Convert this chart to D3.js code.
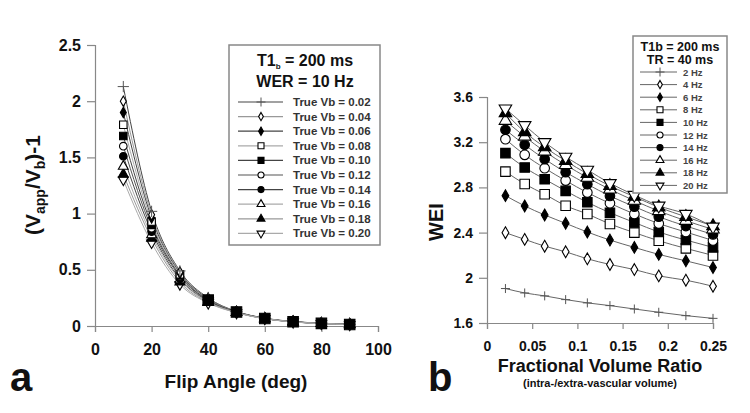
<!DOCTYPE html>
<html><head><meta charset="utf-8">
<script src="https://cdn.jsdelivr.net/npm/d3@7"></script>
<style>
body{margin:0;background:#fff;}
text{font-family:"Liberation Sans",Arial,sans-serif;font-weight:bold;}
</style></head>
<body><svg id="c" width="750" height="413"></svg>
<script>
// ---------- Panel a data ----------
const flipAngles = [10, 20, 30, 40, 50, 60, 70, 80, 90];
const vbLabels = ["True Vb = 0.02","True Vb = 0.04","True Vb = 0.06","True Vb = 0.08","True Vb = 0.10",
                  "True Vb = 0.12","True Vb = 0.14","True Vb = 0.16","True Vb = 0.18","True Vb = 0.20"];
const vb002 = [2.13, 1.02, 0.49, 0.25, 0.130, 0.070, 0.040, 0.025, 0.015];
const vb004 = [2.00, 0.99, 0.48, 0.245, 0.128, 0.069, 0.039, 0.024, 0.015];
const vb006 = [1.90, 0.96, 0.47, 0.240, 0.127, 0.068, 0.038, 0.024, 0.015];
const vb008 = [1.79, 0.93, 0.46, 0.235, 0.126, 0.068, 0.038, 0.023, 0.015];
const vb010 = [1.69, 0.90, 0.45, 0.230, 0.125, 0.067, 0.038, 0.023, 0.014];
const vb012 = [1.60, 0.87, 0.44, 0.225, 0.124, 0.067, 0.037, 0.023, 0.014];
const vb014 = [1.51, 0.84, 0.42, 0.220, 0.122, 0.066, 0.037, 0.022, 0.014];
const vb016 = [1.42, 0.81, 0.41, 0.215, 0.121, 0.066, 0.037, 0.022, 0.014];
const vb018 = [1.35, 0.78, 0.39, 0.210, 0.120, 0.065, 0.036, 0.022, 0.013];
const vb020 = [1.30, 0.74, 0.37, 0.205, 0.118, 0.065, 0.036, 0.021, 0.013];
const leftSeries = [vb002, vb004, vb006, vb008, vb010, vb012, vb014, vb016, vb018, vb020];
const leftXTicks = [0, 20, 40, 60, 80, 100];
const leftYTicks = [0, 0.5, 1, 1.5, 2, 2.5];

// ---------- Panel b data ----------
const volRatio = [0.0204, 0.0417, 0.0638, 0.087, 0.111, 0.136, 0.163, 0.19, 0.22, 0.25];
const werLabels = ["2 Hz","4 Hz","6 Hz","8 Hz","10 Hz","12 Hz","14 Hz","16 Hz","18 Hz","20 Hz"];
const hz2  = [1.905, 1.866, 1.840, 1.807, 1.778, 1.754, 1.724, 1.695, 1.665, 1.641];
const hz4  = [2.399, 2.340, 2.280, 2.230, 2.168, 2.118, 2.073, 2.017, 1.979, 1.925];
const hz6  = [2.727, 2.636, 2.556, 2.482, 2.405, 2.334, 2.269, 2.207, 2.150, 2.091];
const hz8  = [2.940, 2.830, 2.739, 2.638, 2.565, 2.476, 2.400, 2.328, 2.260, 2.198];
const hz10 = [3.103, 2.976, 2.872, 2.769, 2.668, 2.576, 2.490, 2.405, 2.334, 2.269];
const hz12 = [3.227, 3.088, 2.970, 2.860, 2.754, 2.659, 2.565, 2.480, 2.405, 2.330];
const hz14 = [3.310, 3.177, 3.050, 2.934, 2.828, 2.724, 2.630, 2.540, 2.458, 2.384];
const hz16 = [3.390, 3.250, 3.118, 2.999, 2.887, 2.783, 2.683, 2.591, 2.505, 2.428];
const hz18 = [3.458, 3.290, 3.156, 3.035, 2.920, 2.813, 2.718, 2.624, 2.540, 2.458];
const hz20 = [3.497, 3.350, 3.200, 3.070, 2.955, 2.837, 2.733, 2.638, 2.565, 2.452];
const rightSeries = [hz2, hz4, hz6, hz8, hz10, hz12, hz14, hz16, hz18, hz20];
const rightXTicks = [0, 0.05, 0.1, 0.15, 0.2, 0.25];
const rightYTicks = [1.6, 2, 2.4, 2.8, 3.2, 3.6];

// marker kinds shared by both panels
const markerKinds = ["plus","diamondOpen","diamondFilled","squareOpen","squareFilled",
                     "circleOpen","circleFilled","triUpOpen","triUpFilled","triDownOpen"];

const svg = d3.select("#c");
const thinPlus = {draw(ctx, size){ const r = Math.sqrt(size)/2; ctx.moveTo(-r,0); ctx.lineTo(r,0); ctx.moveTo(0,-r); ctx.lineTo(0,r);} };

function drawMarker(g, kind, x, y, s) {
  let type, filled = kind.endsWith("Filled"), rot = 0, size;
  if (kind === "plus") { type = thinPlus; size = (s*1.5)*(s*1.5); }
  else if (kind.startsWith("diamond")) { type = d3.symbolDiamond; size = s*s*0.55; }
  else if (kind.startsWith("square")) { type = d3.symbolSquare; size = s*s; }
  else if (kind.startsWith("circle")) { type = d3.symbolCircle; size = s*s*0.8; }
  else if (kind.startsWith("triUp")) { type = d3.symbolTriangle; size = s*s*0.75; }
  else { type = d3.symbolTriangle; size = s*s*0.75; rot = 180; }
  g.append("path")
    .attr("d", d3.symbol().type(type).size(size)())
    .attr("transform", `translate(${x},${y}) rotate(${rot})`)
    .attr("fill", kind === "plus" ? "none" : (filled ? "#000" : "#fff"))
    .attr("stroke", kind === "plus" ? "#555" : "#000")
    .attr("stroke-width", kind === "plus" ? 1 : 1.1);
}

function axes(g, x, y, xTicks, yTicks, xFmt, yFmt, fs) {
  const ax = g.append("g").attr("transform", `translate(0,${y.range()[0]})`)
    .call(d3.axisBottom(x).tickValues(xTicks).tickSize(6).tickPadding(12).tickFormat(xFmt));
  const ay = g.append("g").attr("transform", `translate(${x.range()[0]},0)`)
    .call(d3.axisLeft(y).tickValues(yTicks).tickSize(8).tickPadding(6).tickFormat(yFmt));
  [ax, ay].forEach(a => {
    a.select(".domain").attr("stroke", "#888").attr("stroke-width", 1.2);
    a.selectAll(".tick line").attr("stroke", "#888").attr("stroke-width", 1.2);
    a.selectAll(".tick text").attr("font-size", fs).attr("fill", "#111")
      .attr("font-family", '"Liberation Sans",Arial,sans-serif').attr("font-weight", "bold");
  });
}

// ================= Panel a =================
const xA = d3.scaleLinear().domain([0, 100]).range([95, 378]);
const yA = d3.scaleLinear().domain([0, 2.5]).range([326, 45]);
const gA = svg.append("g");
axes(gA, xA, yA, leftXTicks, leftYTicks, d3.format("d"), d => d === 0 ? "0" : String(d), 16);

const lineColorsA = ["#444","#999","#444","#aaa","#444","#555","#444","#aaa","#999","#aaa"];
const lineA = d3.line().x((d, i) => xA(flipAngles[i])).y(d => yA(d)).curve(d3.curveMonotoneX);
leftSeries.forEach((s, k) => {
  gA.append("path").attr("d", lineA(s)).attr("fill", "none")
    .attr("stroke", lineColorsA[k]).attr("stroke-width", 1);
});
// markers: at small angles all visible (0.02 on top); at large angles the filled squares sit on top
const orderLow = [9,8,7,6,5,4,3,2,1,0];
const orderHigh = [9,8,7,6,5,3,2,1,0,4];
flipAngles.forEach((fa, i) => {
  const big = fa >= 40;
  (big ? orderHigh : orderLow).forEach(k => {
    drawMarker(gA, markerKinds[k], xA(fa), yA(leftSeries[k][i]), big ? (k === 4 ? 10.5 : 8) : 7.5);
  });
});
// legend a
const legA = gA.append("g");
legA.append("rect").attr("x", 229).attr("y", 45).attr("width", 151).attr("height", 200)
  .attr("fill", "#fff").attr("stroke", "#888").attr("stroke-width", 1.5);
const tA = legA.append("text").attr("x", 305).attr("y", 66).attr("text-anchor", "middle").attr("font-size", 16).attr("fill", "#111");
tA.append("tspan").text("T1");
tA.append("tspan").text("b").attr("font-size", 8).attr("dy", 3);
tA.append("tspan").text(" = 200 ms").attr("dy", -3);
legA.append("text").attr("x", 305).attr("y", 87).attr("text-anchor", "middle").attr("font-size", 16).attr("fill", "#111").text("WER = 10 Hz");
vbLabels.forEach((lab, k) => {
  const yy = 102 + k * 14.6;
  legA.append("line").attr("x1", 238).attr("x2", 283).attr("y1", yy).attr("y2", yy)
    .attr("stroke", lineColorsA[k]).attr("stroke-width", 1.2);
  drawMarker(legA, markerKinds[k], 261, yy, 6);
  legA.append("text").attr("x", 293).attr("y", yy + 4).attr("font-size", 11.5).attr("fill", "#333").text(lab);
});
// axis titles a
const yLabA = gA.append("text").attr("transform", "translate(40,185) rotate(-90)").attr("text-anchor", "middle")
  .attr("font-size", 21).attr("fill", "#111");
yLabA.append("tspan").text("(V");
yLabA.append("tspan").text("app").attr("font-size", 14).attr("dy", 5);
yLabA.append("tspan").text("/V").attr("dy", -5);
yLabA.append("tspan").text("b").attr("font-size", 14).attr("dy", 5);
yLabA.append("tspan").text(")-1").attr("dy", -5);
gA.append("text").attr("x", 236).attr("y", 388).attr("text-anchor", "middle").attr("font-size", 19).attr("fill", "#111").text("Flip Angle (deg)");
gA.append("text").attr("x", 10).attr("y", 391).attr("font-size", 40).attr("fill", "#111").text("a");

// ================= Panel b =================
const xB = d3.scaleLinear().domain([0, 0.25]).range([487, 713]);
const yB = d3.scaleLinear().domain([1.6, 3.6]).range([323, 97]);
const gB = svg.append("g");
axes(gB, xB, yB, rightXTicks, rightYTicks, d => d === 0 ? "0" : String(d), d => String(d), 14);

const lineB = d3.line().x((d, i) => xB(volRatio[i])).y(d => yB(d)).curve(d3.curveMonotoneX);
rightSeries.forEach((s) => {
  gB.append("path").attr("d", lineB(s)).attr("fill", "none").attr("stroke", "#666").attr("stroke-width", 1);
});
rightSeries.forEach((s, k) => {
  const sz = markerKinds[k] === "plus" ? 6 : (markerKinds[k].startsWith("diamond") ? 8.5 : 9.5);
  s.forEach((v, i) => drawMarker(gB, markerKinds[k], xB(volRatio[i]), yB(v), sz));
});
// legend b
const legB = gB.append("g");
legB.append("rect").attr("x", 633).attr("y", 36).attr("width", 94).attr("height", 157)
  .attr("fill", "#fff").attr("stroke", "#888").attr("stroke-width", 1.5);
legB.append("text").attr("x", 680).attr("y", 51).attr("text-anchor", "middle").attr("font-size", 12.5).attr("fill", "#111").text("T1b = 200 ms");
legB.append("text").attr("x", 680).attr("y", 64).attr("text-anchor", "middle").attr("font-size", 12.5).attr("fill", "#111").text("TR = 40 ms");
werLabels.forEach((lab, k) => {
  const yy = 72 + k * 12.6;
  legB.append("line").attr("x1", 640).attr("x2", 677).attr("y1", yy).attr("y2", yy).attr("stroke", "#666").attr("stroke-width", 1);
  drawMarker(legB, markerKinds[k], 660, yy, 6);
  legB.append("text").attr("x", 683).attr("y", yy + 3.5).attr("font-size", 9.5).attr("fill", "#444").text(lab);
});
// axis titles b
gB.append("text").attr("transform", "translate(443,222) rotate(-90)").attr("text-anchor", "middle")
  .attr("font-size", 20).attr("fill", "#111").text("WEI");
gB.append("text").attr("x", 600).attr("y", 372).attr("text-anchor", "middle").attr("font-size", 18).attr("fill", "#111").text("Fractional Volume Ratio");
gB.append("text").attr("x", 600).attr("y", 387).attr("text-anchor", "middle").attr("font-size", 11).attr("fill", "#111").text("(intra-/extra-vascular volume)");
gB.append("text").attr("x", 428).attr("y", 391).attr("font-size", 40).attr("fill", "#111").text("b");
</script></body></html>
